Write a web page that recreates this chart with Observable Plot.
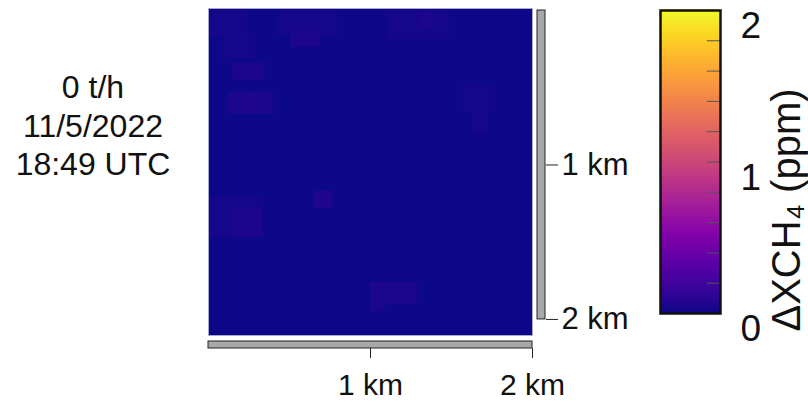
<!DOCTYPE html>
<html>
<head>
<meta charset="utf-8">
<script src="https://cdn.jsdelivr.net/npm/d3@7"></script>
<script src="https://cdn.jsdelivr.net/npm/@observablehq/plot@0.6"></script>
<style>
  body { margin: 0; background: white; font-family: "Liberation Sans", Arial, Helvetica, sans-serif; }
  #wrap { position: relative; width: 808px; height: 402px; overflow: hidden; }
  #wrap svg { position: absolute; left: 0; top: 0; }
  #note { position: absolute; left: 0; top: 68px; width: 186px; text-align: center; z-index: 5;
          font-size: 32px; line-height: 38.5px; color: #111; }
</style>
</head>
<body>
<div id="wrap">
  <div id="note"></div>
</div>
<script>
// ---- annotation text ----
const noteLines = ["0 t/h", "11/5/2022", "18:49 UTC"];

// ---- heatmap extent (km) and background value (ppm) ----
const extentX = [0, 2];
const extentY = [-0.013, 2.104];
const backgroundValue = [0.005];

// ---- faint enhancement patches (km, ppm) ----
const patchX1 = [0.01, 0.09, 0.15, 0.43, 0.51, 1.10, 1.30, 0.12, 0.21, 1.57, 1.63, 0.65, 0.00, 0.14, 1.00, 1.00];
const patchX2 = [0.24, 0.29, 0.35, 0.80, 0.69, 1.49, 1.39, 0.40, 0.30, 1.77, 1.73, 0.77, 0.34, 0.34, 1.29, 1.09];
const patchY1 = [0.00, 0.15, 0.34, 0.00, 0.13, 0.00, 0.01, 0.53, 0.54, 0.49, 0.65, 1.17, 1.21, 1.28, 1.76, 1.76];
const patchY2 = [0.17, 0.31, 0.45, 0.16, 0.24, 0.19, 0.11, 0.67, 0.66, 0.66, 0.80, 1.28, 1.47, 1.47, 1.90, 1.95];
const patchV  = [0.03, 0.03, 0.04, 0.03, 0.05, 0.03, 0.05, 0.04, 0.06, 0.03, 0.03, 0.06, 0.025, 0.05, 0.05, 0.05];

// ---- scale bar ticks (km) ----
const scaleTicks = [1, 2];

// ---- colorbar ----
const colorDomain = [0, 2];
const colorTicks = [0, 1, 2];
const colorMinorTicks = [0.2, 0.4, 0.6, 0.8, 1.0, 1.2, 1.4, 1.6, 1.8];
const colorLabel = "ΔXCH₄ (ppm)";

const FONT = '"Liberation Sans", Arial, Helvetica, sans-serif';

const patches = patchX1.map((x1, i) => ({x1, x2: patchX2[i], y1: patchY1[i], y2: patchY2[i], v: patchV[i]}));
const background = backgroundValue.map(v => ({x1: extentX[0], x2: extentX[1], y1: extentY[0], y2: extentY[1], v}));

const colorScale = {type: "linear", scheme: "plasma", domain: colorDomain};

const main = Plot.plot({
  width: 808, height: 402,
  marginLeft: 208, marginRight: 276, marginTop: 8, marginBottom: 67,
  x: {domain: extentX, axis: null},
  y: {domain: extentY, reverse: true, axis: null},
  color: colorScale,
  style: {fontFamily: FONT, background: "white", color: "#111", overflow: "visible"},
  marks: [
    Plot.rect(background, {x1: "x1", x2: "x2", y1: "y1", y2: "y2", fill: "v"}),
    Plot.rect(patches, {x1: "x1", x2: "x2", y1: "y1", y2: "y2", fill: "v"}),
    Plot.frame({stroke: "#a9a9cf", strokeWidth: 1}),
    // bottom scale bar
    Plot.rect([extentX], {x1: d => d[0], x2: d => d[1], y1: extentY[1], y2: extentY[1],
      insetBottom: -7, dy: 6, fill: "#a8a8a8", stroke: "#222", strokeWidth: 1}),
    // right scale bar
    Plot.rect([[0, 2]], {y1: d => d[0], y2: d => d[1], x1: extentX[1], x2: extentX[1],
      insetRight: -8, dx: 5, fill: "#a8a8a8", stroke: "#222", strokeWidth: 1}),
    Plot.axisX(scaleTicks, {anchor: "bottom", tickSize: 10, dy: 13, tickPadding: 15,
      tickFormat: d => `${d} km`, fontSize: 30, stroke: "#222"}),
    Plot.axisY(scaleTicks, {anchor: "right", tickSize: 12, dx: 13, tickPadding: 4,
      tickFormat: d => `${d} km`, fontSize: 31, stroke: "#222"})
  ]
});

const stops = d3.range(0, 200).map(i => colorDomain[0] + (colorDomain[1] - colorDomain[0]) * i / 200);
const step = (colorDomain[1] - colorDomain[0]) / 200;

const bar = Plot.plot({
  width: 808, height: 402,
  marginLeft: 660, marginRight: 88, marginTop: 10, marginBottom: 89,
  x: {domain: [0, 1], axis: null},
  y: {domain: colorDomain, axis: null},
  color: colorScale,
  style: {fontFamily: FONT, background: "transparent", color: "#111", overflow: "visible"},
  marks: [
    Plot.rect(stops, {x1: 0, x2: 1, y1: d => d, y2: d => d + step, fill: d => d, insetTop: -0.6, insetBottom: -0.6}),
    Plot.ruleY(colorMinorTicks, {x1: 0.78, x2: 1, stroke: "#555", strokeWidth: 1}),
    Plot.frame({stroke: "#111", strokeWidth: 2.5}),
    Plot.axisY(colorTicks, {anchor: "right", tickSize: 0, tickPadding: 20, dy: 16, fontSize: 37,
      tickFormat: d => String(d)}),
    Plot.text([colorLabel], {frameAnchor: "right", rotate: -90, dx: 67, dy: 48, fontSize: 40,
      textAnchor: "middle", lineAnchor: "middle", fill: "#111"})
  ]
});

const wrap = document.getElementById("wrap");
wrap.appendChild(main);
wrap.appendChild(bar);
document.getElementById("note").innerHTML = noteLines.join("<br>");
</script>
</body>
</html>
